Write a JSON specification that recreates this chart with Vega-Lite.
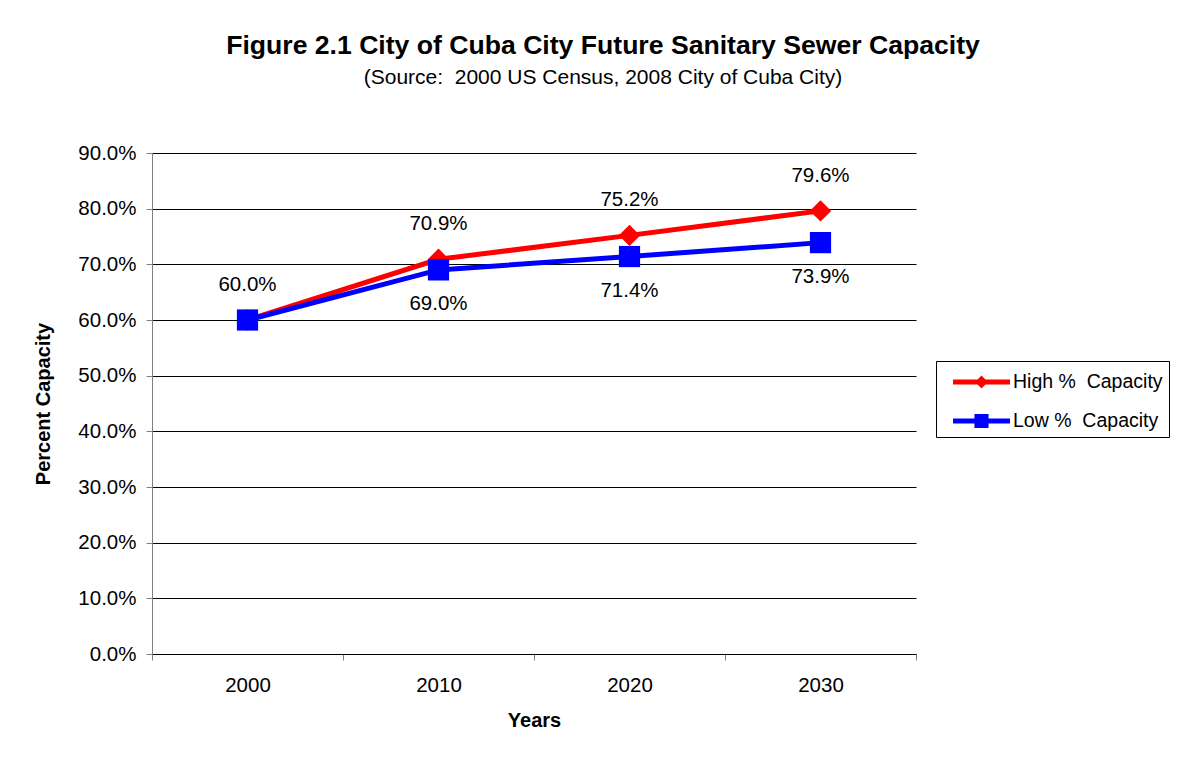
{
  "$schema": "https://vega.github.io/schema/vega-lite/v6.json",
  "width": 764,
  "height": 501,
  "autosize": {"type": "none"},
  "padding": {"left": 152, "top": 153, "right": 266, "bottom": 107},
  "background": "white",
  "config": {
    "view": {"stroke": null},
    "font": "Liberation Sans"
  },
  "title": {
    "text": "Figure 2.1 City of Cuba City Future Sanitary Sewer Capacity",
    "subtitle": "(Source:\u00a0 2000 US Census, 2008 City of Cuba City)",
    "anchor": "middle",
    "frame": "group",
    "dx": 69,
    "offset": 55,
    "font": "Liberation Sans",
    "fontSize": 26.6,
    "fontWeight": "bold",
    "color": "#000000",
    "subtitleFont": "Liberation Sans",
    "subtitleFontSize": 21,
    "subtitleColor": "#000000",
    "subtitlePadding": 7
  },
  "data": {
    "values": [
      {"series": "High %\u00a0 Capacity", "year": "2000", "value": 0.600},
      {"series": "High %\u00a0 Capacity", "year": "2010", "value": 0.709},
      {"series": "High %\u00a0 Capacity", "year": "2020", "value": 0.752},
      {"series": "High %\u00a0 Capacity", "year": "2030", "value": 0.796},
      {"series": "Low %\u00a0 Capacity", "year": "2000", "value": 0.600},
      {"series": "Low %\u00a0 Capacity", "year": "2010", "value": 0.690},
      {"series": "Low %\u00a0 Capacity", "year": "2020", "value": 0.714},
      {"series": "Low %\u00a0 Capacity", "year": "2030", "value": 0.739}
    ]
  },
  "encoding": {
    "x": {
      "field": "year",
      "type": "ordinal",
      "scale": {"type": "band", "paddingInner": 0, "paddingOuter": 0},
      "axis": {
        "title": "Years",
        "titleFont": "Liberation Sans",
        "titleFontSize": 20,
        "titleFontWeight": "bold",
        "titleColor": "#000000",
        "titlePadding": 15,
        "labelAngle": 0,
        "labelFont": "Liberation Sans",
        "labelFontSize": 20.5,
        "labelColor": "#000000",
        "labelPadding": 15,
        "tickBand": "extent",
        "tickSize": 6,
        "tickColor": "#808080",
        "domainColor": "#000000",
        "grid": false
      }
    },
    "y": {
      "field": "value",
      "type": "quantitative",
      "scale": {"domain": [0, 0.9], "nice": false, "zero": true},
      "axis": {
        "title": "Percent Capacity",
        "titleFont": "Liberation Sans",
        "titleFontSize": 20,
        "titleFontWeight": "bold",
        "titleColor": "#000000",
        "titlePadding": 24,
        "values": [0, 0.1, 0.2, 0.3, 0.4, 0.5, 0.6, 0.7, 0.8, 0.9],
        "format": ".1%",
        "labelFont": "Liberation Sans",
        "labelFontSize": 20.5,
        "labelColor": "#000000",
        "labelPadding": 10,
        "tickSize": 6,
        "tickColor": "#808080",
        "domainColor": "#808080",
        "grid": true,
        "gridColor": "#000000",
        "gridOpacity": 1
      }
    }
  },
  "layer": [
    {
      "mark": {"type": "line", "strokeWidth": 5},
      "encoding": {
        "color": {
          "field": "series",
          "type": "nominal",
          "scale": {"domain": ["High %\u00a0 Capacity", "Low %\u00a0 Capacity"], "range": ["#FF0000", "#0000FF"]},
          "legend": {
            "title": null,
            "orient": "none",
            "legendX": 784,
            "legendY": 208,
            "direction": "vertical",
            "padding": 6,
            "strokeColor": "#000000",
            "fillColor": "#FFFFFF",
            "symbolSize": 900,
            "symbolOffset": 24.5,
            "labelOffset": 16.5,
            "rowPadding": 14,
            "labelFont": "Liberation Sans",
            "labelFontSize": 19.5,
            "labelColor": "#000000",
            "labelLimit": 400,
            "encode": {
              "symbols": {
                "update": {
                  "shape": {"signal": "datum.value === 'High %\u00a0 Capacity' ? 'M-1.9,-0.17H1.9V0.17H-1.9Z M0,-0.43L0.43,0L0,0.43L-0.43,0Z' : 'M-1.9,-0.17H1.9V0.17H-1.9Z M-0.47,-0.47H0.47V0.47H-0.47Z'"},
                  "fill": {"signal": "datum.value === 'High %\u00a0 Capacity' ? '#FF0000' : '#0000FF'"},
                  "fillOpacity": {"value": 1},
                  "strokeWidth": {"value": 0},
                  "opacity": {"value": 1}
                }
              }
            }
          }
        }
      }
    },
    {
      "transform": [{"filter": "datum.series === 'High %\u00a0 Capacity'"}],
      "mark": {"type": "point", "filled": true, "opacity": 1, "shape": "diamond", "size": 460, "color": "#FF0000"},
      "encoding": {}
    },
    {
      "transform": [{"filter": "datum.series === 'Low %\u00a0 Capacity'"}],
      "mark": {"type": "point", "filled": true, "opacity": 1, "shape": "square", "size": 450, "color": "#0000FF"},
      "encoding": {}
    },
    {
      "transform": [{"filter": "datum.series === 'High %\u00a0 Capacity'"}],
      "mark": {"type": "text", "dy": -35, "fontSize": 20.5, "font": "Liberation Sans", "color": "#000000"},
      "encoding": {
        "text": {"field": "value", "type": "quantitative", "format": ".1%"}
      }
    },
    {
      "transform": [{"filter": "datum.series === 'Low %\u00a0 Capacity' && datum.year !== '2000'"}],
      "mark": {"type": "text", "dy": 34, "fontSize": 20.5, "font": "Liberation Sans", "color": "#000000"},
      "encoding": {
        "text": {"field": "value", "type": "quantitative", "format": ".1%"}
      }
    }
  ]
}
